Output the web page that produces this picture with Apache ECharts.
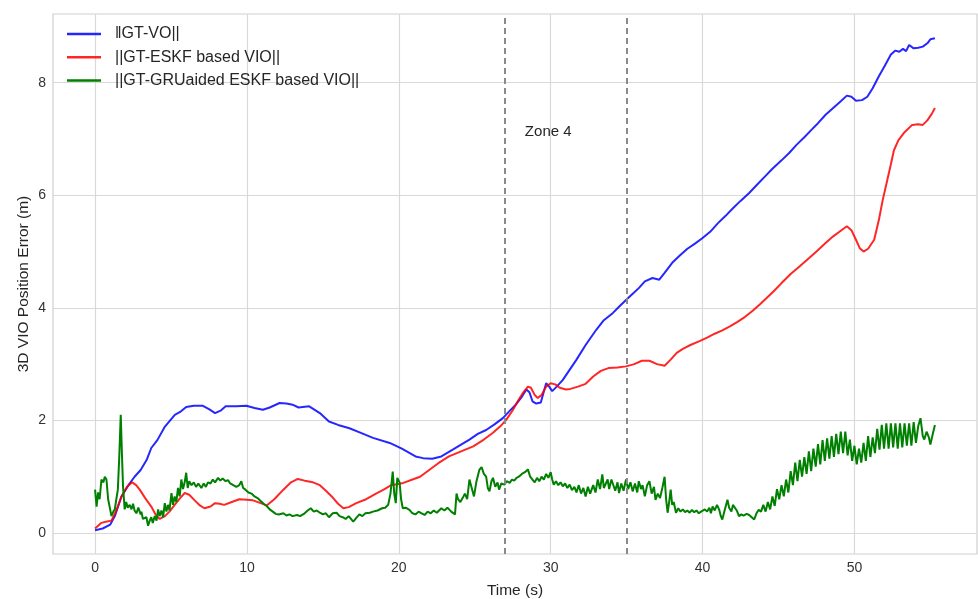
<!DOCTYPE html>
<html>
<head>
<meta charset="utf-8">
<script src="https://cdn.jsdelivr.net/npm/echarts@6/dist/echarts.min.js"></script>
<style>html,body{margin:0;padding:0;background:#fff}#c{width:978px;height:599px}</style>
</head>
<body>
<div id="c"></div>
<script>
const seriesNames = ['\u2016GT-VO||', '||GT-ESKF based VIO||', '||GT-GRUaided ESKF based VIO||'];
const xTicks = [0, 10, 20, 30, 40, 50];
const yTicks = [0, 2, 4, 6, 8];
const zoneBounds = [27, 35];
const zoneLabel = { text: 'Zone 4', t: 28.3, v: 7.12 };

const blueData = [[0,0.05],[0.5,0.08],[1.0,0.15],[1.3,0.3],[1.74,0.65],[2.2,0.85],[2.6,1.0],[3.0,1.12],[3.4,1.3],[3.7,1.51],[4.1,1.65],[4.6,1.89],[5.0,2.02],[5.25,2.1],[5.6,2.15],[6.0,2.24],[6.5,2.26],[7.1,2.26],[7.5,2.2],[7.9,2.13],[8.3,2.18],[8.6,2.25],[9.3,2.25],[9.96,2.26],[10.5,2.22],[11.05,2.19],[11.5,2.23],[12.15,2.31],[12.6,2.3],[13.0,2.28],[13.4,2.23],[14.1,2.25],[14.8,2.13],[15.4,1.98],[16.0,1.92],[16.75,1.86],[17.5,1.78],[18.3,1.69],[19.4,1.6],[20.2,1.5],[21.1,1.36],[21.6,1.33],[22.2,1.32],[22.8,1.36],[23.55,1.48],[24.1,1.57],[24.65,1.66],[25.2,1.76],[25.75,1.83],[26.3,1.93],[26.85,2.04],[27.3,2.17],[27.7,2.28],[28.1,2.42],[28.4,2.55],[28.6,2.5],[28.8,2.34],[29.05,2.3],[29.35,2.32],[29.7,2.66],[29.9,2.6],[30.1,2.52],[30.4,2.6],[30.8,2.72],[31.2,2.88],[31.7,3.08],[32.3,3.34],[33.0,3.61],[33.5,3.78],[34.1,3.91],[34.5,4.02],[34.96,4.14],[35.4,4.25],[35.8,4.35],[36.2,4.47],[36.7,4.53],[37.15,4.5],[37.5,4.62],[38.0,4.8],[38.5,4.93],[39.0,5.05],[39.5,5.14],[40.0,5.24],[40.5,5.35],[41.0,5.5],[41.5,5.63],[42.0,5.77],[42.5,5.9],[43.07,6.04],[43.6,6.19],[44.1,6.33],[44.6,6.47],[45.2,6.62],[45.7,6.75],[46.2,6.9],[46.7,7.03],[47.2,7.17],[47.6,7.28],[48.1,7.43],[48.6,7.55],[49.1,7.67],[49.5,7.77],[49.8,7.75],[50.1,7.68],[50.5,7.69],[50.85,7.75],[51.2,7.9],[51.6,8.11],[52.0,8.3],[52.4,8.5],[52.7,8.57],[52.95,8.55],[53.2,8.6],[53.4,8.56],[53.6,8.67],[53.9,8.61],[54.2,8.62],[54.5,8.64],[54.8,8.7],[55.0,8.77],[55.3,8.79]];

const redData = [[0,0.08],[0.42,0.18],[0.7,0.2],[1.08,0.22],[1.4,0.4],[1.74,0.65],[2.1,0.82],[2.45,0.9],[2.7,0.85],[2.94,0.77],[3.3,0.62],[3.7,0.47],[4.0,0.32],[4.26,0.25],[4.6,0.3],[4.9,0.38],[5.24,0.5],[5.6,0.62],[5.9,0.71],[6.2,0.68],[6.56,0.58],[6.9,0.49],[7.2,0.44],[7.6,0.47],[7.9,0.53],[8.2,0.52],[8.5,0.5],[9.0,0.55],[9.5,0.6],[10.0,0.59],[10.4,0.58],[10.9,0.53],[11.3,0.49],[11.8,0.6],[12.4,0.77],[12.9,0.9],[13.35,0.96],[13.8,0.93],[14.35,0.9],[14.8,0.85],[15.2,0.75],[15.65,0.63],[16.0,0.52],[16.35,0.44],[16.7,0.46],[17.2,0.53],[17.85,0.6],[18.5,0.7],[19.0,0.77],[19.5,0.85],[20.3,0.89],[20.9,0.95],[21.4,1.0],[22.0,1.12],[22.6,1.24],[23.3,1.36],[24.1,1.45],[24.9,1.54],[25.6,1.66],[26.2,1.78],[26.7,1.9],[27.07,2.01],[27.5,2.18],[27.9,2.37],[28.2,2.5],[28.5,2.6],[28.7,2.58],[28.95,2.45],[29.15,2.4],[29.4,2.45],[29.7,2.6],[30.0,2.66],[30.3,2.64],[30.6,2.58],[31.0,2.55],[31.3,2.56],[31.8,2.6],[32.3,2.65],[32.8,2.78],[33.3,2.88],[33.8,2.93],[34.4,2.94],[34.96,2.96],[35.5,3.0],[36.0,3.06],[36.5,3.06],[37.0,3.0],[37.5,2.97],[37.9,3.08],[38.3,3.2],[38.7,3.27],[39.2,3.34],[39.8,3.41],[40.3,3.47],[40.8,3.54],[41.3,3.6],[41.8,3.67],[42.3,3.75],[42.8,3.84],[43.3,3.95],[43.8,4.07],[44.2,4.17],[44.7,4.3],[45.2,4.44],[45.8,4.6],[46.4,4.74],[47.0,4.88],[47.5,5.0],[48.1,5.15],[48.6,5.27],[49.1,5.37],[49.5,5.45],[49.8,5.38],[50.1,5.21],[50.35,5.06],[50.6,5.0],[50.9,5.05],[51.3,5.21],[51.6,5.55],[51.85,5.9],[52.07,6.16],[52.4,6.55],[52.6,6.8],[52.9,6.98],[53.3,7.12],[53.8,7.25],[54.2,7.26],[54.5,7.25],[54.8,7.33],[55.1,7.45],[55.3,7.55]];

const greenData = [[0,0.77],[0.1,0.47],[0.2,0.72],[0.3,0.6],[0.42,0.95],[0.55,0.9],[0.64,1.0],[0.75,0.95],[0.86,0.6],[0.97,0.45],[1.08,0.3],[1.2,0.38],[1.3,0.42],[1.4,0.6],[1.5,0.77],[1.6,1.4],[1.69,2.1],[1.77,1.4],[1.84,0.83],[1.95,0.42],[2.05,0.55],[2.15,0.45],[2.28,0.5],[2.4,0.42],[2.5,0.52],[2.6,0.4],[2.72,0.35],[2.85,0.45],[3.0,0.33],[3.05,0.38],[3.15,0.25],[3.27,0.22],[3.38,0.28],[3.49,0.13],[3.6,0.22],[3.7,0.28],[3.8,0.18],[3.93,0.3],[4.05,0.22],[4.15,0.42],[4.25,0.3],[4.37,0.4],[4.48,0.28],[4.59,0.53],[4.7,0.38],[4.8,0.5],[4.9,0.4],[5.03,0.71],[5.13,0.5],[5.24,0.65],[5.35,0.55],[5.46,0.8],[5.57,0.65],[5.68,0.95],[5.79,0.78],[5.9,0.9],[6.0,1.07],[6.1,0.8],[6.2,0.92],[6.35,0.85],[6.5,0.9],[6.65,0.82],[6.8,0.88],[7.0,0.8],[7.15,0.88],[7.3,0.82],[7.43,0.9],[7.6,0.88],[7.75,0.95],[7.9,0.9],[8.1,0.98],[8.25,0.93],[8.4,0.97],[8.6,0.92],[8.75,0.94],[8.9,0.88],[9.1,0.85],[9.3,0.82],[9.5,0.85],[9.63,0.92],[9.75,0.8],[9.9,0.77],[10.1,0.72],[10.3,0.7],[10.5,0.65],[10.7,0.62],[10.9,0.57],[11.1,0.52],[11.3,0.48],[11.5,0.42],[11.7,0.38],[11.9,0.34],[12.1,0.33],[12.4,0.35],[12.6,0.31],[12.8,0.33],[13.0,0.3],[13.3,0.32],[13.5,0.3],[13.8,0.35],[14.0,0.4],[14.2,0.44],[14.4,0.38],[14.6,0.4],[14.8,0.36],[15.0,0.33],[15.2,0.35],[15.4,0.28],[15.65,0.35],[15.9,0.36],[16.1,0.3],[16.3,0.28],[16.5,0.25],[16.7,0.3],[17.0,0.2],[17.2,0.27],[17.4,0.33],[17.6,0.3],[17.8,0.35],[18.1,0.36],[18.3,0.38],[18.6,0.4],[18.9,0.44],[19.1,0.45],[19.3,0.5],[19.45,0.7],[19.6,1.09],[19.7,0.7],[19.8,0.53],[19.9,0.98],[20.05,0.9],[20.15,0.6],[20.26,0.44],[20.45,0.45],[20.7,0.41],[20.9,0.35],[21.1,0.33],[21.3,0.38],[21.5,0.35],[21.7,0.32],[21.9,0.38],[22.1,0.35],[22.3,0.4],[22.5,0.36],[22.8,0.44],[23.0,0.4],[23.2,0.45],[23.45,0.38],[23.7,0.33],[23.8,0.7],[23.9,0.6],[24.05,0.55],[24.2,0.62],[24.35,0.7],[24.5,0.6],[24.65,0.95],[24.8,0.8],[24.95,0.65],[25.1,0.9],[25.3,1.12],[25.45,1.17],[25.6,1.05],[25.75,1.0],[25.86,0.8],[25.97,0.74],[26.1,0.92],[26.2,0.98],[26.35,0.82],[26.5,0.9],[26.6,0.77],[26.75,0.88],[26.95,0.86],[27.1,0.92],[27.3,0.89],[27.45,0.95],[27.6,0.93],[27.75,0.98],[27.9,1.0],[28.1,1.05],[28.3,1.08],[28.5,1.13],[28.65,1.0],[28.8,0.95],[28.95,0.9],[29.1,0.98],[29.25,0.92],[29.4,1.0],[29.55,0.95],[29.7,1.05],[29.85,0.98],[30.0,1.08],[30.1,0.95],[30.2,0.86],[30.35,0.92],[30.5,0.85],[30.65,0.9],[30.8,0.83],[30.95,0.88],[31.1,0.8],[31.25,0.86],[31.4,0.76],[31.56,0.82],[31.7,0.72],[31.85,0.85],[32.0,0.7],[32.15,0.8],[32.3,0.65],[32.45,0.82],[32.6,0.7],[32.8,0.85],[32.95,0.72],[33.1,0.95],[33.25,0.78],[33.4,1.04],[33.5,0.8],[33.6,0.77],[33.75,0.95],[33.85,0.78],[34.0,0.95],[34.1,0.98],[34.25,0.75],[34.4,0.9],[34.5,0.71],[34.65,0.88],[34.8,0.75],[34.96,0.95],[35.1,0.78],[35.25,0.9],[35.4,0.74],[35.55,0.88],[35.7,0.72],[35.8,0.92],[35.95,0.78],[36.05,0.85],[36.2,0.65],[36.35,0.85],[36.5,0.92],[36.65,0.7],[36.8,0.82],[36.9,0.59],[37.05,0.7],[37.2,0.62],[37.35,0.8],[37.5,1.0],[37.6,0.6],[37.7,0.36],[37.8,0.55],[37.9,0.77],[38.0,0.5],[38.1,0.55],[38.25,0.36],[38.4,0.44],[38.55,0.38],[38.7,0.42],[38.85,0.37],[39.0,0.4],[39.15,0.36],[39.3,0.41],[39.45,0.37],[39.6,0.4],[39.75,0.35],[39.9,0.38],[40.0,0.36],[40.15,0.42],[40.3,0.38],[40.45,0.45],[40.55,0.35],[40.66,0.47],[40.8,0.4],[40.95,0.5],[41.1,0.41],[41.2,0.3],[41.3,0.24],[41.45,0.4],[41.64,0.59],[41.75,0.45],[41.9,0.38],[42.0,0.5],[42.1,0.53],[42.25,0.4],[42.4,0.3],[42.55,0.33],[42.7,0.31],[42.9,0.34],[43.07,0.32],[43.2,0.3],[43.4,0.24],[43.55,0.35],[43.7,0.41],[43.85,0.38],[44.0,0.5],[44.15,0.38],[44.3,0.55],[44.45,0.42],[44.6,0.65],[44.75,0.48],[44.9,0.78],[45.05,0.6],[45.2,0.85],[45.35,0.65],[45.5,0.95],[45.65,0.72],[45.8,1.1],[45.95,0.85],[46.1,1.25],[46.25,0.92],[46.4,1.3],[46.55,1.0],[46.7,1.35],[46.85,1.05],[47.0,1.45],[47.15,1.1],[47.3,1.5],[47.45,1.18],[47.6,1.58],[47.75,1.22],[47.9,1.65],[48.05,1.28],[48.2,1.68],[48.35,1.32],[48.5,1.72],[48.65,1.35],[48.8,1.76],[48.95,1.4],[49.1,1.8],[49.25,1.42],[49.4,1.8],[49.55,1.38],[49.7,1.66],[49.85,1.28],[50.0,1.55],[50.15,1.22],[50.3,1.5],[50.45,1.25],[50.6,1.6],[50.75,1.28],[50.9,1.72],[51.05,1.35],[51.2,1.7],[51.35,1.42],[51.5,1.85],[51.65,1.48],[51.8,1.92],[51.95,1.5],[52.1,1.95],[52.25,1.5],[52.4,1.95],[52.55,1.52],[52.7,1.95],[52.85,1.5],[53.0,1.95],[53.15,1.52],[53.3,1.95],[53.45,1.55],[53.6,1.95],[53.75,1.55],[53.9,1.97],[54.05,1.6],[54.2,1.9],[54.35,2.04],[54.5,1.72],[54.6,1.66],[54.75,1.8],[54.9,1.7],[55.0,1.57],[55.15,1.75],[55.3,1.92]];

const colors = ['rgba(0,0,255,0.85)', 'rgba(255,0,0,0.85)', '#008000'];
const FONT = "'Liberation Sans', Arial, sans-serif";
const chart = echarts.init(document.getElementById('c'), null, { renderer: 'canvas' });

chart.setOption({
  animation: false,
  backgroundColor: '#ffffff',
  textStyle: { fontFamily: FONT },
  grid: { left: 53, right: 1, top: 14, bottom: 45, outerBoundsMode: 'none', containLabel: false, show: true, borderColor: '#cfcfcf', borderWidth: 1.2, backgroundColor: 'transparent' },
  legend: {
    orient: 'vertical', left: 67, top: 26, padding: 0,
    itemWidth: 34, itemHeight: 2.5, itemGap: 7.3,
    textStyle: { fontSize: 16, color: '#262626', fontFamily: FONT, lineHeight: 16, padding: [0, 0, 0, 9] },
    data: seriesNames.map(n => ({ name: n, icon: 'rect' }))
  },
  xAxis: {
    type: 'value', min: -2.77, max: 58.07,
    name: 'Time (s)', nameLocation: 'middle', nameGap: 29, nameMoveOverlap: false,
    nameTextStyle: { fontSize: 15.5, color: '#262626', fontFamily: FONT },
    axisLine: { show: false }, axisTick: { show: false, customValues: xTicks },
    axisLabel: { customValues: xTicks, fontSize: 14, color: '#333', margin: 7, fontFamily: FONT },
    splitLine: { show: true, lineStyle: { color: '#d9d9d9', width: 1.2 } }
  },
  yAxis: {
    type: 'value', min: -0.373, max: 9.22,
    name: '3D VIO Position Error (m)', nameLocation: 'middle', nameGap: 21, nameMoveOverlap: false,
    nameTextStyle: { fontSize: 15.5, color: '#262626', fontFamily: FONT },
    axisLine: { show: false }, axisTick: { show: false, customValues: yTicks },
    axisLabel: { customValues: yTicks, fontSize: 14, color: '#333', margin: 7, fontFamily: FONT },
    splitLine: { show: true, lineStyle: { color: '#d9d9d9', width: 1.2 } }
  },
  series: [
    {
      name: seriesNames[0], type: 'line', data: blueData, showSymbol: false, symbol: 'none',
      lineStyle: { color: colors[0], width: 2 }, itemStyle: { color: colors[0] }, z: 2,
      markLine: {
        silent: true, symbol: 'none', label: { show: false },
        lineStyle: { type: [6, 4], color: '#8a8a8a', width: 2 },
        data: zoneBounds.map(b => ({ xAxis: b }))
      },
      markPoint: {
        silent: true, symbol: 'circle', symbolSize: 0,
        label: { show: true, position: 'right', distance: 0, formatter: zoneLabel.text, fontSize: 15, color: '#262626', fontFamily: FONT },
        data: [{ coord: [zoneLabel.t, zoneLabel.v] }]
      }
    },
    {
      name: seriesNames[1], type: 'line', data: redData, showSymbol: false, symbol: 'none',
      lineStyle: { color: colors[1], width: 2 }, itemStyle: { color: colors[1] }, z: 3
    },
    {
      name: seriesNames[2], type: 'line', data: greenData, showSymbol: false, symbol: 'none',
      lineStyle: { color: colors[2], width: 2 }, itemStyle: { color: colors[2] }, z: 4
    }
  ]
});
</script>
</body>
</html>
